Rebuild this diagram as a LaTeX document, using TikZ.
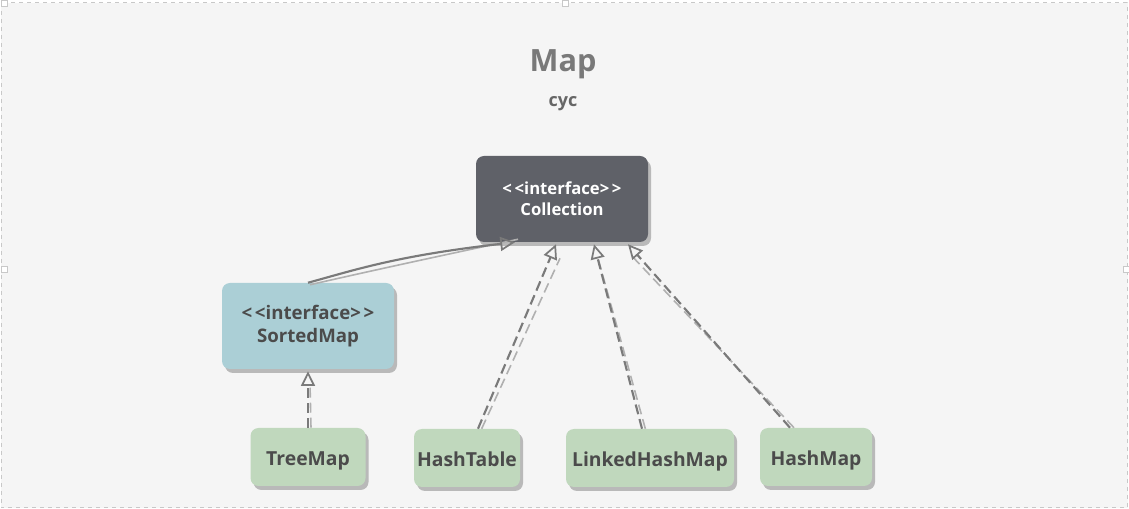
\documentclass[tikz,border=0pt]{standalone}
\usepackage{fontspec}
\setmainfont[Ligatures=NoCommon]{Open Sans}
\usetikzlibrary{arrows.meta,shadows}
\definecolor{bg}{HTML}{F5F5F5}
\definecolor{frame}{HTML}{C8C8C8}
\definecolor{dark}{HTML}{5F6168}
\definecolor{blueb}{HTML}{ABCFD6}
\definecolor{greenb}{HTML}{C0D8BD}
\definecolor{txt}{HTML}{4B4B4B}
\definecolor{edge}{HTML}{7A7A7A}
\definecolor{edgel}{HTML}{B0B0B0}
\definecolor{shad}{HTML}{B9B9B9}
\newcommand\stereo{{<}\kern2pt{<}interface{>}\kern2pt{>}}
\tikzset{
  box/.style={rounded corners=6pt, inner sep=0pt, align=center, font=\bfseries,
    drop shadow={shadow xshift=2.25pt, shadow yshift=-3pt, fill=shad, opacity=1}},
  darkbox/.style={box, fill=dark, text=white, minimum width=129pt, minimum height=64.5pt, font=\fontsize{12.5}{15.5}\bfseries},
  bluebox/.style={box, fill=blueb, text=txt, minimum width=129pt, minimum height=64.5pt, font=\fontsize{14}{17}\bfseries},
  greenbox/.style={box, fill=greenb, text=txt, minimum height=43.5pt, text height=16pt, text depth=3pt, font=\fontsize{14.5}{16}\bfseries},
  rel/.style={draw=edge, line width=1.6pt, -{Triangle[open,length=11pt,width=10.5pt,line width=1.3pt]}},
  relshade/.style={draw=edgel, line width=1.2pt},
  dsh/.style={dash pattern=on 7.5pt off 3.75pt},
}
\begin{document}
\begin{tikzpicture}[x=0.75pt,y=-0.75pt]
\useasboundingbox (0,0) rectangle (1129,509);
\fill[white] (0,0) rectangle (1129,509);
\fill[bg] (1,3) rectangle (1128,508);
\draw[frame, dashed, line width=0.75pt] (1,3) rectangle (1127,508);
\foreach \p in {(4,4),(565,4),(4,270),(1126,270)}{
  \fill[white,draw=frame,line width=0.75pt] \p ++(-3,-3) rectangle ++(6,6);}

\node[font=\fontsize{23}{25}\bfseries, text=gray!95!black] (title) at (563,64) {Map};
\node[font=\fontsize{13.5}{14}\bfseries, text=gray!80!black] (sub) at (563,104) {cyc};

\node[darkbox] (coll) at (562,199) {\stereo\\Collection};
\node[bluebox] (sorted) at (308,326) {\stereo\\SortedMap};
\node[greenbox, minimum width=86.25pt] (tree) at (308,457) {TreeMap};
\node[greenbox, minimum width=79.5pt] (htab) at (467,458) {HashTable};
\node[greenbox, minimum width=126pt] (lhm) at (650,458) {LinkedHashMap};
\node[greenbox, minimum width=84pt] (hm) at (816,457) {HashMap};

% SortedMap -> Collection (solid, generalization)
\draw[relshade] ([xshift=1.5pt,yshift=-1.5pt]sorted.north) .. controls (362,273) and (402,264) .. ([xshift=-33pt,yshift=2.25pt]coll.south);
\draw[rel] (sorted.north) .. controls (355,270) and (395,256) .. ([xshift=-35.25pt]coll.south);

% realizations (dashed)
\draw[relshade,dsh] ([xshift=11pt]htab.north) -- ([xshift=-1.5pt,yshift=-12pt]coll.south);
\draw[rel,dsh] ([xshift=8.25pt]htab.north) -- ([xshift=-4.5pt,yshift=-1.5pt]coll.south);

\draw[relshade,dsh] ([xshift=-3.5pt]lhm.north) -- ([xshift=27pt,yshift=-12pt]coll.south);
\draw[rel,dsh] ([xshift=-6pt]lhm.north) -- ([xshift=24pt,yshift=-1.5pt]coll.south);

\draw[relshade,dsh] ([xshift=-16.5pt]hm.north) -- ([xshift=54pt,yshift=-12pt]coll.south);
\draw[rel,dsh] ([xshift=-19.5pt]hm.north) -- ([xshift=49.5pt,yshift=-1.5pt]coll.south);

\draw[relshade,dsh] ([xshift=2.25pt]tree.north) -- ([xshift=1.5pt,yshift=-11pt]sorted.south);
\draw[rel,dsh] (tree.north) -- ([yshift=-1.5pt]sorted.south);
\end{tikzpicture}
\end{document}
